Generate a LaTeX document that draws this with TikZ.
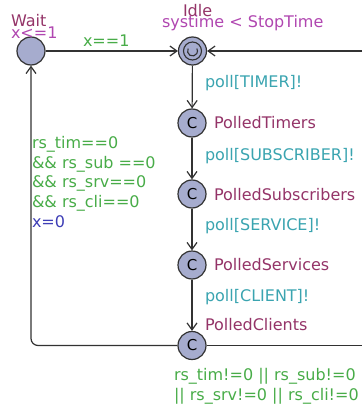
\documentclass[tikz,border=0pt]{standalone}
\usepackage{fontspec}
\setmainfont{DejaVu Sans}
\usetikzlibrary{arrows.meta}

\definecolor{locname}{RGB}{148,52,104}
\definecolor{invcol}{RGB}{176,70,176}
\definecolor{guardcol}{RGB}{72,172,72}
\definecolor{synccol}{RGB}{58,164,176}
\definecolor{assigncol}{RGB}{62,62,182}
\definecolor{locfill}{RGB}{166,172,206}
\definecolor{edgecol}{RGB}{50,50,50}

\tikzset{
  loc/.style={circle, draw=edgecol, line width=1.2pt, fill=locfill,
              minimum size=28pt, inner sep=0pt},
  lbl/.style={anchor=base west, inner sep=0pt, outer sep=0pt,
              font=\fontsize{16}{19.6}\selectfont},
  namelbl/.style={lbl, text=locname},
  invlbl/.style={lbl, text=invcol},
  guardlbl/.style={lbl, text=guardcol, align=left},
  synclbl/.style={lbl, text=synccol},
  assignlbl/.style={lbl, text=assigncol},
  edge/.style={draw=edgecol, line width=1.2pt},
  tip/.style={edge, -{Straight Barb[length=7pt,width=10pt,line width=1.2pt]}}
}

\begin{document}
\begin{tikzpicture}[x=1pt, y=-1pt]
  \useasboundingbox (0,0) rectangle (362,404);

  % locations
  \node[loc] (wait) at (31,51) {};
  \node[loc] (idle) at (192.5,51) {};
  \node[loc, font=\fontsize{15}{15}\selectfont] (ptim) at (192,123) {C};
  \node[loc, font=\fontsize{15}{15}\selectfont] (psub) at (192,194) {C};
  \node[loc, font=\fontsize{15}{15}\selectfont] (psrv) at (192,265) {C};
  \node[loc, font=\fontsize{15}{15}\selectfont] (pcli) at (192,345.5) {C};

  % initial + urgent marks inside Idle
  \draw[edgecol, line width=1.1pt] (idle.center) circle[radius=9pt];
  \draw[edgecol, line width=1.1pt] (idle.center) ++(150:5pt)
        arc[start angle=150, end angle=390, radius=5pt];

  % loose ends of the loop that leaves the frame on the right
  \coordinate (outin) at (362,51);
  \coordinate (outout) at (362,345.5);

  % edges
  \draw[tip] (wait) -- (idle);
  \draw[tip] (outin) -- (idle);
  \draw[tip] (idle) -- (ptim);
  \draw[tip] (ptim) -- (psub);
  \draw[tip] (psub) -- (psrv);
  \draw[tip] (psrv) -- (pcli);
  \draw[edge] (pcli) -- (outout);
  \draw[tip, rounded corners=7pt] (pcli) -| (wait);

  % location names and invariants
  \node[namelbl] (nwait) at (11,27) {Wait};
  \node[invlbl] (iwait) at (11,38) {x<=1};
  \node[namelbl] (nidle) at (183,17) {Idle};
  \node[invlbl] (iidle) at (162,28) {systime < StopTime};
  \node[namelbl] (nptim) at (214,128.3) {PolledTimers};
  \node[namelbl] (npsub) at (214,200) {PolledSubscribers};
  \node[namelbl] (npsrv) at (214,270) {PolledServices};
  \node[namelbl] (npcli) at (205,330.5) {PolledClients};

  % edge labels (multi-line labels are placed by their last baseline)
  \node[guardlbl] (gstart) at (83,47) {x==1};
  \node[synclbl] (s1) at (205,88) {poll[TIMER]!};
  \node[synclbl] (s2) at (205,160) {poll[SUBSCRIBER]!};
  \node[synclbl] (s3) at (205,230) {poll[SERVICE]!};
  \node[synclbl] (s4) at (205,301.5) {poll[CLIENT]!};
  \node[guardlbl] (gback) at (32,207.3)
    {rs\_tim==0\\ \&\& rs\_sub ==0\\ \&\& rs\_srv==0\\ \&\& rs\_cli==0};
  \node[assignlbl] (aback) at (32,227) {x=0};
  \node[guardlbl] (gloop) at (174,400.5)
    {rs\_tim!=0 || rs\_sub!=0\\ || rs\_srv!=0 || rs\_cli!=0};
\end{tikzpicture}
\end{document}
